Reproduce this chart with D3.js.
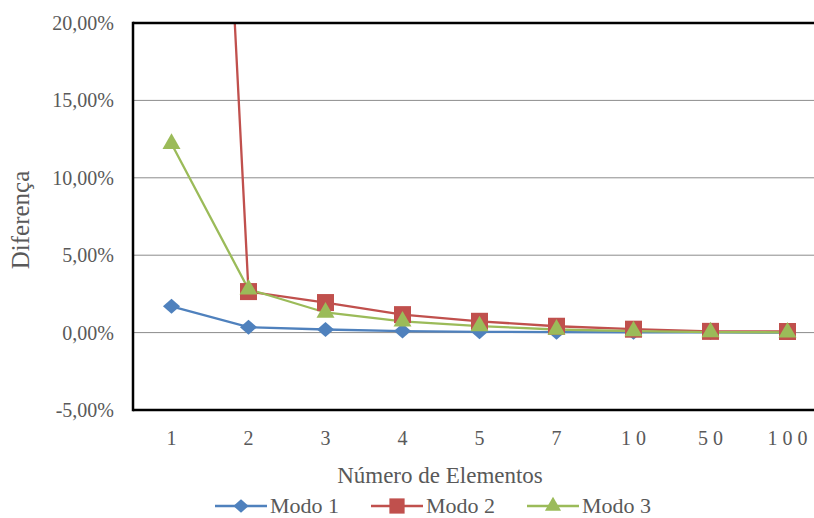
<!DOCTYPE html>
<html>
<head>
<meta charset="utf-8">
<script src="https://cdn.jsdelivr.net/npm/d3@7"></script>
<style>
body { margin: 0; background: #fff; }
svg text { font-family: "Liberation Serif", "Times New Roman", serif; fill: #595959; }
</style>
</head>
<body>
<div id="chart"></div>
<script>
var width = 814;
var height = 518;

// categories and values (fractions)
var elementos = ["1", "2", "3", "4", "5", "7", "10", "50", "100"];
var modo1 = [0.017, 0.0035, 0.002, 0.001, 0.0005, 0.0003, 0.0002, 0.0001, 0.0];
var modo2 = [1.0, 0.0265, 0.0194, 0.0116, 0.0073, 0.0041, 0.0022, 0.0008, 0.0007];
var modo3 = [0.122, 0.028, 0.013, 0.0073, 0.0042, 0.002, 0.001, 0.0003, 0.0002];
var yTicks = [-0.05, 0, 0.05, 0.10, 0.15, 0.20];
var seriesNames = ["Modo 1", "Modo 2", "Modo 3"];
var colors = ["#4F81BD", "#C0504D", "#9BBB59"];

var margin = {top: 23, left: 133, bottom: 108};
var plotW = 693;

var svg = d3.select("#chart").append("svg")
  .attr("width", width)
  .attr("height", height);

var xScale = d3.scaleBand()
  .domain(elementos)
  .range([margin.left, margin.left + plotW]);

var yScale = d3.scaleLinear()
  .domain([-0.05, 0.20])
  .range([height - margin.bottom, margin.top]);

// grid
svg.append("g").selectAll("line")
  .data(yTicks.filter(function (d) { return d > -0.05 && d < 0.20; }))
  .enter().append("line")
  .attr("x1", margin.left).attr("x2", margin.left + plotW)
  .attr("y1", function (d) { return yScale(d); })
  .attr("y2", function (d) { return yScale(d); })
  .attr("stroke", "#8c8c8c").attr("stroke-width", 1);

// y axis labels
var fmt = function (d) { return d3.format(".2f")(d * 100).replace("−", "-").replace(".", ",") + "%"; };
svg.append("g").selectAll("text")
  .data(yTicks).enter().append("text")
  .attr("x", 114)
  .attr("y", function (d) { return yScale(d) + 7; })
  .attr("text-anchor", "end")
  .style("font-size", "20px")
  .text(fmt);

// x labels
svg.append("g").selectAll("text")
  .data(elementos).enter().append("text")
  .attr("x", function (d) { return xScale(d) + xScale.bandwidth() / 2; })
  .attr("y", 445)
  .attr("text-anchor", "middle")
  .style("font-size", "20px")
  .style("letter-spacing", function (d) { return d.length > 1 ? "5px" : "0px"; })
  .attr("dx", function (d) { return d.length > 1 ? 2.5 : 0; })
  .text(function (d) { return d; });

// clip for lines going off chart
svg.append("clipPath").attr("id", "clip")
  .append("rect")
  .attr("x", margin.left).attr("y", margin.top)
  .attr("width", plotW).attr("height", yScale(-0.05) - margin.top);

var line = d3.line()
  .x(function (d, i) { return xScale(elementos[i]) + xScale.bandwidth() / 2; })
  .y(function (d) { return yScale(d); });

var allSeries = [modo1, modo2, modo3];
var shapes = [d3.symbolDiamond, d3.symbolSquare, d3.symbolTriangle];
var sizes = [150, 290, 140];
var squash = [" scale(1.3,0.66)", "", ""];

allSeries.forEach(function (vals, k) {
  var g = svg.append("g").attr("clip-path", "url(#clip)");
  g.append("path")
    .datum(vals)
    .attr("d", line)
    .attr("fill", "none")
    .attr("stroke", colors[k])
    .attr("stroke-width", 2.3);
});

allSeries.forEach(function (vals, k) {
  var g = svg.append("g").attr("clip-path", "url(#clip)");
  g.selectAll("path")
    .data(vals).enter().append("path")
    .attr("transform", function (d, i) {
      return "translate(" + (xScale(elementos[i]) + xScale.bandwidth() / 2) + "," + yScale(d) + ")" + squash[k];
    })
    .attr("d", d3.symbol().type(shapes[k]).size(sizes[k]))
    .attr("fill", colors[k]);
});

// frame
svg.append("line")
  .attr("x1", margin.left).attr("x2", margin.left + plotW)
  .attr("y1", margin.top).attr("y2", margin.top)
  .attr("stroke", "#000").attr("stroke-width", 2.5);
svg.append("line")
  .attr("x1", margin.left).attr("x2", margin.left + plotW)
  .attr("y1", yScale(-0.05)).attr("y2", yScale(-0.05))
  .attr("stroke", "#000").attr("stroke-width", 2.5);
svg.append("line")
  .attr("x1", margin.left).attr("x2", margin.left)
  .attr("y1", margin.top - 1.25).attr("y2", yScale(-0.05) + 1.25)
  .attr("stroke", "#000").attr("stroke-width", 2.5);

// axis titles
svg.append("text")
  .attr("transform", "translate(29,220) rotate(-90)")
  .attr("text-anchor", "middle")
  .style("font-size", "25px")
  .text("Diferença");

svg.append("text")
  .attr("x", 440).attr("y", 483)
  .attr("text-anchor", "middle")
  .style("font-size", "23px")
  .text("Número de Elementos");

// legend
var legendX = [215, 371, 527];
var legend = svg.append("g");
seriesNames.forEach(function (name, k) {
  var lg = legend.append("g").attr("transform", "translate(" + legendX[k] + ",506)");
  lg.append("line").attr("x1", 0).attr("x2", 52).attr("y1", 0).attr("y2", 0)
    .attr("stroke", colors[k]).attr("stroke-width", 2.3);
  lg.append("path")
    .attr("transform", "translate(26,0)" + squash[k])
    .attr("d", d3.symbol().type(shapes[k]).size(sizes[k] * 0.8))
    .attr("fill", colors[k]);
  lg.append("text").attr("x", 55).attr("y", 7)
    .style("font-size", "22px")
    .text(name);
});
</script>
</body>
</html>
